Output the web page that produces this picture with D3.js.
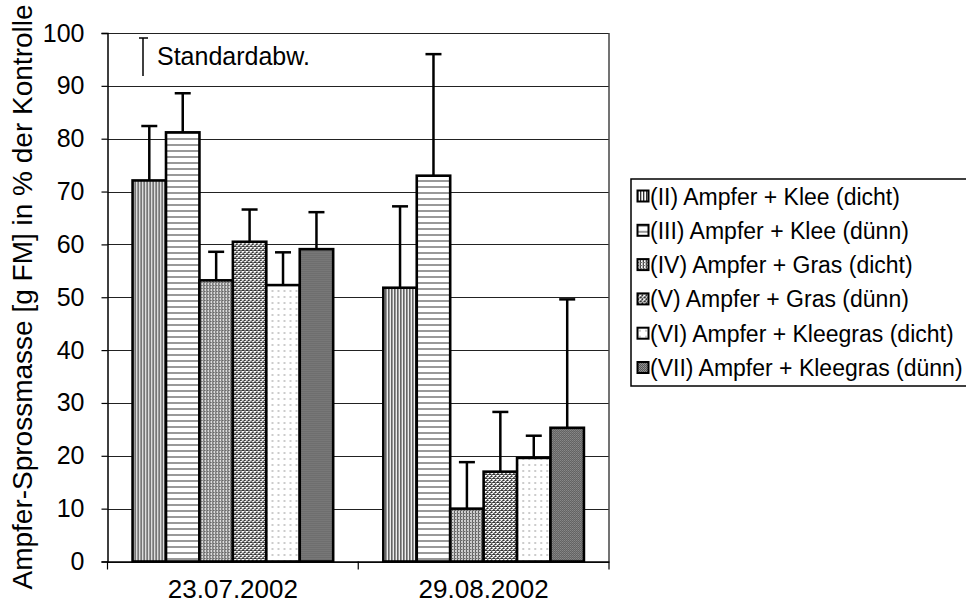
<!DOCTYPE html>
<html><head><meta charset="utf-8">
<script src="https://cdn.jsdelivr.net/npm/d3@7"></script>
<style>
html,body{margin:0;padding:0;background:#fff;}
svg{display:block;font-family:"Liberation Sans",Arial,sans-serif;}
</style></head>
<body><svg id="c" width="966" height="609"></svg>
<script>
const categories = ["23.07.2002", "29.08.2002"];
const seriesNames = [
  "(II) Ampfer + Klee (dicht)",
  "(III) Ampfer + Klee (dünn)",
  "(IV) Ampfer + Gras (dicht)",
  "(V) Ampfer + Gras (dünn)",
  "(VI) Ampfer + Kleegras (dicht)",
  "(VII) Ampfer + Kleegras (dünn)"
];
const means0723 = [72.1, 81.2, 53.2, 60.5, 52.3, 59.1];
const means0829 = [51.8, 73.0, 10.0, 17.0, 19.6, 25.3];
const sd0723 = [10.3, 7.4, 5.4, 6.1, 6.2, 7.0];
const sd0829 = [15.4, 23.0, 8.8, 11.3, 4.2, 24.3];
const yTicks = [0, 10, 20, 30, 40, 50, 60, 70, 80, 90, 100];
const yTitle = "Ampfer-Sprossmasse [g FM] in % der Kontrolle";
const sdLabel = "Standardabw.";

const meansByCat = [means0723, means0829];
const sdByCat = [sd0723, sd0829];

const svg = d3.select("#c");
const L = 107.5, R = 609, T = 33, B = 561.5;
const x0 = d3.scaleBand().domain(categories).range([L, R]).padding(0);
const x1 = d3.scaleBand().domain(d3.range(seriesNames.length)).range([0, x0.bandwidth()]).paddingInner(0).paddingOuter(0.75);
const y = d3.scaleLinear().domain([0, 100]).range([B, T]);

// patterns
const defs = svg.append("defs");
function pat(id, w, h, draw) {
  const p = defs.append("pattern").attr("id", id).attr("patternUnits", "userSpaceOnUse")
    .attr("width", w).attr("height", h);
  p.append("rect").attr("width", w).attr("height", h).attr("fill", "#fff");
  draw(p);
}
function px(p, x, yy, c, w = 1, h = 1) {
  p.append("rect").attr("x", x).attr("y", yy).attr("width", w).attr("height", h).attr("fill", c).attr("shape-rendering", "crispEdges");
}
pat("p0", 3, 3, p => { px(p, 0, 0, "#333", 1, 3); px(p, 1, 0, "#bbb", 1, 3); });
pat("p1", 6, 6, p => { px(p, 0, 0, "#999", 6, 2); });
pat("p2", 3, 3, p => { px(p, 0, 0, "#444", 1, 3); px(p, 0, 0, "#666", 3, 1); px(p, 2, 0, "#bbb", 1, 3); });
pat("p3", 4, 4, p => {
  [[0,0],[1,0],[3,1],[2,2],[3,2],[1,3],[0,2]].forEach(([a,b]) => px(p, a, b, "#333"));
  [[2,0],[0,1],[1,2]].forEach(([a,b]) => px(p, a, b, "#aaa"));
});
pat("p4", 6, 6, p => { px(p, 2, 2, "#ccc", 2, 2); });
pat("p5", 2, 2, p => { px(p, 0, 0, "#555", 2, 2); px(p, 0, 0, "#999"); px(p, 1, 1, "#888"); });
const fills = d3.range(6).map(i => `url(#p${i})`);

// gridlines
svg.append("g").selectAll("line").data(yTicks).join("line")
  .attr("x1", L).attr("x2", R).attr("y1", d => Math.round(y(d)) + 0.5).attr("y2", d => Math.round(y(d)) + 0.5)
  .attr("stroke", "#222").attr("stroke-width", 1);
// right frame
svg.append("line").attr("x1", R).attr("x2", R).attr("y1", T).attr("y2", B).attr("stroke", "#444").attr("stroke-width", 1.5);

// bars
const groups = svg.append("g").selectAll("g").data(categories).join("g")
  .attr("transform", d => `translate(${x0(d)},0)`);
groups.each(function (cat, ci) {
  const g = d3.select(this);
  const rows = meansByCat[ci].map((m, i) => ({ i, m, sd: sdByCat[ci][i] }));
  rows.forEach(r => {
    const cx = x1(r.i) + x1.bandwidth() / 2;
    g.append("line").attr("x1", cx).attr("x2", cx).attr("y1", y(r.m)).attr("y2", y(r.m + r.sd))
      .attr("stroke", "#000").attr("stroke-width", 2.5);
    g.append("line").attr("x1", cx - 8).attr("x2", cx + 8).attr("y1", y(r.m + r.sd)).attr("y2", y(r.m + r.sd))
      .attr("stroke", "#000").attr("stroke-width", 2.5);
  });
  g.selectAll("rect.bar").data(rows).join("rect").attr("class", "bar")
    .attr("x", r => x1(r.i)).attr("width", x1.bandwidth())
    .attr("y", r => y(r.m)).attr("height", r => y(0) - y(r.m))
    .attr("fill", r => fills[r.i]).attr("stroke", "#000").attr("stroke-width", 2.6);
});

// y axis
const ya = svg.append("g").attr("transform", `translate(${L},0)`)
  .call(d3.axisLeft(y).tickValues(yTicks).tickSize(6).tickPadding(17));
ya.select(".domain").attr("stroke", "#000").attr("stroke-width", 1.5);
ya.selectAll(".tick line").attr("stroke", "#000").attr("stroke-width", 1.2);
ya.selectAll(".tick text").attr("font-size", 25).attr("fill", "#000").attr("font-family", "Liberation Sans, Arial, sans-serif");

// x axis
const xa = svg.append("g").attr("transform", `translate(0,${B})`)
  .call(d3.axisBottom(x0).tickSize(0).tickPadding(18));
xa.select(".domain").attr("stroke", "#000").attr("stroke-width", 1.5);
xa.selectAll(".tick text").attr("font-size", 26).attr("fill", "#000").attr("font-family", "Liberation Sans, Arial, sans-serif");
const xTickPos = [L, ...categories.map(c => x0(c) + x0.bandwidth())];
svg.append("g").selectAll("line").data(xTickPos).join("line")
  .attr("x1", d => d).attr("x2", d => d).attr("y1", B).attr("y2", B + 8)
  .attr("stroke", "#000").attr("stroke-width", 1.2);

// y title
svg.append("text").attr("transform", "translate(32,297) rotate(-90)")
  .attr("text-anchor", "middle").attr("font-size", 28).attr("fill", "#000").text(yTitle);

// std marker
svg.append("line").attr("x1", 143).attr("x2", 143).attr("y1", 38).attr("y2", 76).attr("stroke", "#000").attr("stroke-width", 1.5);
svg.append("line").attr("x1", 139).attr("x2", 148).attr("y1", 38).attr("y2", 38).attr("stroke", "#000").attr("stroke-width", 1.5);
svg.append("text").attr("x", 157).attr("y", 65).attr("font-size", 25).attr("fill", "#000").text(sdLabel);

// legend
const lg = svg.append("g");
lg.append("rect").attr("x", 631).attr("y", 179).attr("width", 360).attr("height", 207)
  .attr("fill", "#fff").attr("stroke", "#000").attr("stroke-width", 1.5);
const items = lg.selectAll("g").data(seriesNames).join("g")
  .attr("transform", (d, i) => `translate(637,${196.5 + i * 34.3})`);
items.append("rect").attr("x", 0.5).attr("y", -6).attr("width", 11).attr("height", 11)
  .attr("fill", (d, i) => fills[i]).attr("stroke", "#000").attr("stroke-width", 2);
items.append("text").attr("x", 13).attr("y", 8).attr("font-size", 23).attr("fill", "#000").text(d => d);
</script></body></html>
